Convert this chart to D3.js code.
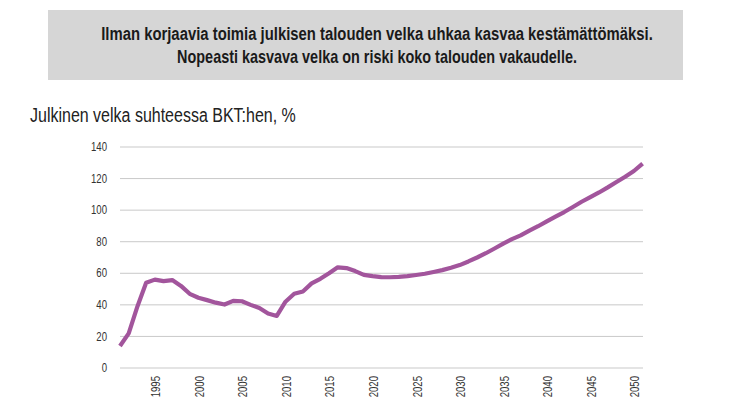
<!DOCTYPE html>
<html>
<head>
<meta charset="utf-8">
<script src="https://cdn.jsdelivr.net/npm/d3@7"></script>
<style>
  body { margin: 0; background: #fff; }
  svg text { font-family: "Liberation Sans", Arial, sans-serif; }
</style>
</head>
<body>
<div id="chart"></div>
<script>
// debt to GDP, %, 1990..2050
var startYear = 1990;
var debt = [13.9, 21.9, 39, 54, 56, 55, 55.7, 52, 47, 44.5,
    43, 41.4, 40.2, 42.5, 42.3, 40, 38, 34.5, 33, 42,
    47, 48.5, 53.6, 56.5, 60, 63.8, 63.3, 61.4, 59, 58.2,
    57.6, 57.5, 57.7, 58.2, 58.9, 59.7, 60.8, 62, 63.5, 65.2,
    67.5, 70, 72.7, 75.7, 78.8, 81.6, 84, 87, 89.8, 92.9,
    95.9, 98.8, 102, 105.3, 108.3, 111.2, 114.4, 117.8, 121.2, 124.8,
    129.5];
var yTicks = [0, 20, 40, 60, 80, 100, 120, 140];
var xTicks = [1995, 2000, 2005, 2010, 2015, 2020, 2025, 2030, 2035, 2040, 2045, 2050];
var headline = ['Ilman korjaavia toimia julkisen talouden velka uhkaa kasvaa kestämättömäksi.',
    'Nopeasti kasvava velka on riski koko talouden vakaudelle.'];
var chartTitle = 'Julkinen velka suhteessa BKT:hen, %';

var W = 732, H = 406;
var svg = d3.select('#chart').append('svg').attr('width', W).attr('height', H);

// the original font is a condensed one: squeeze a text to a width with a scale
function squeeze(parent, str, tx, ty, w, anchor) {
    var g = parent.append('g');
    var t = g.append('text').attr('text-anchor', anchor).text(str);
    return {
        text: t,
        fit: function () {
            var k = w / t.node().getComputedTextLength();
            g.attr('transform', 'translate(' + tx + ',' + ty + ') scale(' + k + ',1)');
            return t;
        }
    };
}

// headline box
svg.append('rect').attr('x', 48).attr('y', 10).attr('width', 635).attr('height', 70)
    .attr('fill', '#d6d6d6');
var headW = [552, 400];
headline.forEach(function (d, i) {
    var s = squeeze(svg, d, 377, 40 + i * 23, headW[i], 'middle');
    s.text.attr('font-size', 19).attr('font-weight', 'bold').attr('fill', '#1a1a1a');
    s.fit();
});

var ts = squeeze(svg, chartTitle, 30, 122, 266, 'start');
ts.text.attr('font-size', 21).attr('fill', '#222');
ts.fit();

var data = debt.map(function (v, i) { return { year: startYear + i, value: v }; });

var x = d3.scaleLinear().domain([1990, 2050]).range([120, 642.6]);
var y = d3.scaleLinear().domain([0, 140]).range([368, 147]);

// grid
var g = svg.append('g');
g.selectAll('line.grid').data(yTicks).enter().append('line')
    .attr('class', 'grid')
    .attr('x1', 120).attr('x2', 643)
    .attr('y1', function (d) { return y(d); }).attr('y2', function (d) { return y(d); })
    .attr('stroke', function (d) { return d === 0 ? '#e4e4e4' : '#c9c9c9'; })
    .attr('stroke-width', function (d) { return d === 0 ? 2 : 1; });

g.selectAll('text.ylab').data(yTicks).enter().append('text')
    .attr('class', 'ylab')
    .attr('transform', function (d) { return 'translate(107,' + y(d) + ') scale(0.8,1)'; })
    .attr('dy', '0.35em').attr('text-anchor', 'end')
    .attr('font-size', 12).attr('fill', '#333')
    .text(function (d) { return d; });

g.selectAll('text.xlab').data(xTicks).enter().append('text')
    .attr('class', 'xlab')
    .attr('transform', function (d) { return 'translate(' + (x(d) - 7.5) + ',376) rotate(-90) scale(0.8,1)'; })
    .attr('dy', '0.35em').attr('text-anchor', 'end')
    .attr('font-size', 12).attr('fill', '#333')
    .text(function (d) { return d; });

var line = d3.line()
    .x(function (d) { return x(d.year); })
    .y(function (d) { return y(d.value); });

svg.append('path').datum(data)
    .attr('d', line)
    .attr('fill', 'none')
    .attr('stroke', '#a2559c')
    .attr('stroke-width', 4.2)
    .attr('stroke-linejoin', 'round');
</script>
</body>
</html>
